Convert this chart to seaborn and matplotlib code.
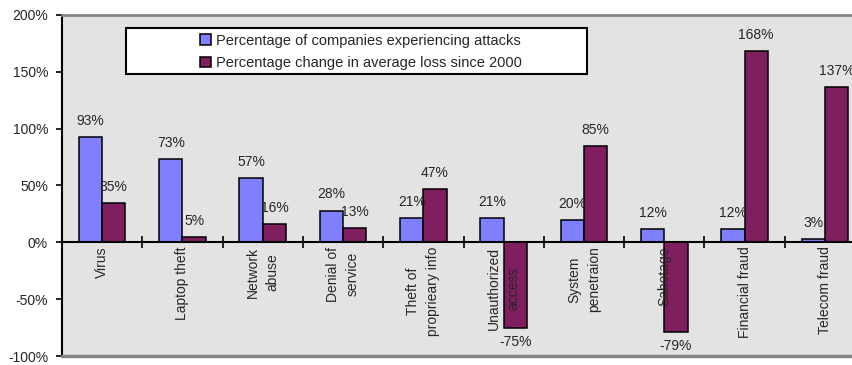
import matplotlib
matplotlib.use("Agg")
import matplotlib.pyplot as plt
import matplotlib.ticker as mticker
from matplotlib.patches import Rectangle
import pandas as pd
import seaborn as sns

categories = [
    "Virus",
    "Laptop theft",
    "Network\nabuse",
    "Denial of\nservice",
    "Theft of\nproprieary info",
    "Unauthorized\naccess",
    "System\npenetraion",
    "Sabotage",
    "Financial fraud",
    "Telecom fraud",
]
series_names = [
    "Percentage of companies experiencing attacks",
    "Percentage change in average loss since 2000",
]
pct_attacked = [93, 73, 57, 28, 21, 21, 20, 12, 12, 3]
pct_loss_change = [35, 5, 16, 13, 47, -75, 85, -79, 168, 137]
y_ticks = [-100, -50, 0, 50, 100, 150, 200]

BLUE = "#8080FF"
PURPLE = "#7F1F5F"
GRAY = "#858585"
FS = 10

df = pd.DataFrame({
    "category": categories * 2,
    "series": [series_names[0]] * len(categories) + [series_names[1]] * len(categories),
    "value": pct_attacked + pct_loss_change,
})

sns.set_style("white")
plt.rcParams["font.family"] = ["Liberation Sans", "DejaVu Sans"]
plt.rcParams["font.size"] = FS

W, H = 852, 365
fig = plt.figure(figsize=(W / 100, H / 100), dpi=100)
# plot area runs past the right edge of the canvas
ax = fig.add_axes([62 / W, 1 - 356 / H, (865 - 62) / W, (356 - 15) / H])
ax.set_facecolor("#E3E3E3")

sns.barplot(
    data=df, x="category", y="value", hue="series",
    palette=[BLUE, PURPLE], saturation=1, width=0.58, gap=0,
    edgecolor="black", linewidth=1.1, errorbar=None, ax=ax, zorder=3,
)

ax.set_ylim(-100, 200)
ax.set_xlim(-0.5, len(categories) - 0.5)
ax.set_yticks(y_ticks)
ax.yaxis.set_major_formatter(mticker.FuncFormatter(lambda v, _: f"{int(v)}%"))
ax.tick_params(axis="y", which="major", direction="out", length=4, width=1.2,
               color="black", pad=6, labelsize=FS, left=True)
ax.set_xlabel("")
ax.set_ylabel("")

# category axis crosses at zero, with separators between groups
ax.spines["bottom"].set_position(("data", 0))
ax.spines["bottom"].set_color("black")
ax.spines["bottom"].set_linewidth(1.5)
ax.spines["bottom"].set_zorder(4)
ax.set_xticks([i + 0.5 for i in range(len(categories) - 1)])
ax.set_xticklabels([])
ax.tick_params(axis="x", direction="inout", length=8, width=1.2, color="black", bottom=True)

ax.spines["left"].set_color("black")
ax.spines["left"].set_linewidth(1.5)
ax.spines["top"].set_color(GRAY)
ax.spines["top"].set_linewidth(2)
ax.spines["right"].set_visible(False)
ax.axhline(-100, color=GRAY, linewidth=2.5, clip_on=False, zorder=4)

for i, name in enumerate(categories):
    ax.annotate(name, xy=(i, 0), xytext=(0, -3), textcoords="offset points",
                rotation=90, ha="center", va="top", multialignment="center",
                linespacing=1.55, fontsize=FS, zorder=5)

for cont, vals in zip(ax.containers, [pct_attacked, pct_loss_change]):
    pos = [f"{v}%" if v >= 0 else "" for v in vals]
    neg = [f"{v}%" if v < 0 else "" for v in vals]
    ax.bar_label(cont, labels=pos, padding=6.5, fontsize=FS, zorder=5)
    ax.bar_label(cont, labels=neg, padding=5, fontsize=FS, zorder=5)

handles, labels = ax.get_legend_handles_labels()
ax.get_legend().remove()
leg = fig.legend(handles, labels, loc="center left",
                 bbox_to_anchor=(193 / W, 1 - 52 / H), frameon=False,
                 handlelength=0.7, handleheight=0.7, handletextpad=0.35,
                 labelspacing=0.6, fontsize=10.5, borderpad=0)
leg.set_zorder(6)
fig.patches.append(Rectangle((126 / W, 1 - 74 / H), (587 - 126) / W, (74 - 28) / H,
                             transform=fig.transFigure, facecolor="white",
                             edgecolor="black", linewidth=1.5, zorder=5))

fig.savefig("out.png", dpi=100)
